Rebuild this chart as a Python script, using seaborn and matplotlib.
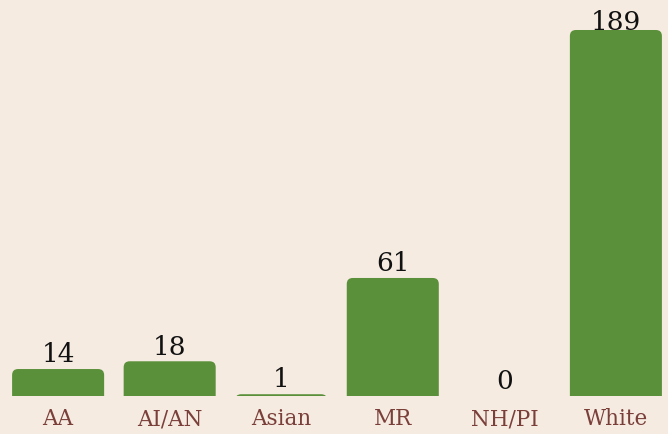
import numpy as np
import pandas as pd
import matplotlib
matplotlib.use("Agg")
import matplotlib.pyplot as plt
import seaborn as sns
from matplotlib.patches import FancyBboxPatch

# Data
groups = ["AA", "AI/AN", "Asian", "MR", "NH/PI", "White"]
counts = [14, 18, 1, 61, 0, 189]

bg = "#f5ebe1"
green = "#5b903a"
tick_color = "#7b3f3a"

df = pd.DataFrame({"group": groups, "count": counts})

sns.set_style("white")
plt.rcParams["font.family"] = ["DejaVu Serif"]

fig = plt.figure(figsize=(6.68, 4.35), dpi=100, facecolor=bg)
ax = fig.add_axes([0.0035, 0.087, 1.002, 0.913])
ax.set_facecolor(bg)

sns.barplot(data=df, x="group", y="count", color=green, width=0.825,
            saturation=1, ax=ax)

ax.set_xlim(-0.5, 5.5)
ax.set_ylim(0, 205)

# swap the plain bars for ones with rounded tops
x_px = 669.4 / 6.0
y_px = 397 / 205.0
r_px = 6
aspect = (r_px / y_px) / (r_px / x_px)
for bar in list(ax.patches):
    x0, w, h = bar.get_x(), bar.get_width(), bar.get_height()
    if h <= 0:
        bar.remove()
        continue
    bottom = -8
    rounded = FancyBboxPatch((x0, bottom), w, h - bottom,
                             boxstyle=f"round,pad=0,rounding_size={r_px / x_px}",
                             mutation_aspect=aspect,
                             facecolor=green, edgecolor="none")
    bar.remove()
    ax.add_patch(rounded)

# value labels
for i, v in enumerate(counts):
    off = 2 if v < 180 else -3
    ax.annotate(str(v), (i, v), xytext=(0, off), textcoords="offset points",
                ha="center", va="bottom", fontsize=19, color="#111111")

ax.set_xlabel("")
ax.set_ylabel("")
ax.set_yticks([])
ax.tick_params(axis="x", length=0, pad=8, labelsize=15.5, labelcolor=tick_color)
sns.despine(ax=ax, left=True, bottom=True)

fig.savefig("out.png", dpi=100, facecolor=bg)
